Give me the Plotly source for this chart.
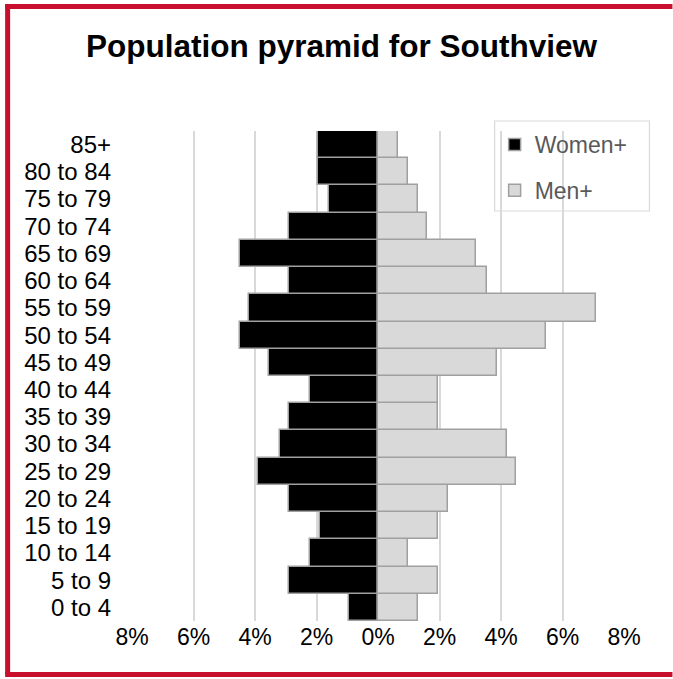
import plotly.graph_objects as go

age_groups = ["0 to 4", "5 to 9", "10 to 14", "15 to 19", "20 to 24", "25 to 29",
              "30 to 34", "35 to 39", "40 to 44", "45 to 49", "50 to 54", "55 to 59",
              "60 to 64", "65 to 69", "70 to 74", "75 to 79", "80 to 84", "85+"]
women = [0.95, 2.9, 2.2, 1.9, 2.9, 3.9, 3.2, 2.9, 2.2, 3.55, 4.5, 4.2, 2.9, 4.5, 2.9, 1.6, 1.95, 1.95]
men = [1.3, 1.95, 0.97, 1.95, 2.27, 4.5, 4.2, 1.95, 1.95, 3.87, 5.45, 7.1, 3.55, 3.2, 1.6, 1.3, 0.98, 0.64]
tick_vals = [-8, -6, -4, -2, 0, 2, 4, 6, 8]
tick_text = ["8%", "6%", "4%", "2%", "0%", "2%", "4%", "6%", "8%"]

W, H = 673, 679
L, R, T, B = 132, 624.5, 131, 621

def px(x):
    return (x - L) / (R - L)

def py(y):
    return (B - y) / (B - T)

FONT = "Liberation Sans, Arial, sans-serif"
RED = "#C8102E"

fig = go.Figure()
fig.add_trace(go.Bar(
    y=age_groups, x=[-v for v in women], orientation="h", name="Women+",
    legendgroup="w",
    marker=dict(color="#000000", line=dict(color="#a0a0a0", width=1.5)),
))
fig.add_trace(go.Bar(
    y=age_groups, x=men, orientation="h", name="Men+",
    legendgroup="m",
    marker=dict(color="#d9d9d9", line=dict(color="#a0a0a0", width=1.5)),
))

frame = dict(type="line", xref="paper", yref="paper", layer="above",
             line=dict(color=RED, width=5))
shapes = [
    dict(type="rect", xref="paper", yref="paper", layer="between",
         x0=px(495), x1=px(650), y0=py(211), y1=py(121),
         fillcolor="white", line=dict(color="#d9d9d9", width=1.2)),
    dict(frame, x0=px(7.5), x1=px(7.5), y0=py(674.5), y1=py(4)),
    dict(frame, x0=px(5), x1=px(W), y0=py(6.5), y1=py(6.5)),
    dict(frame, x0=px(5), x1=px(W), y0=py(674.5), y1=py(674.5)),
]

fig.update_layout(
    width=W, height=H,
    margin=dict(l=L, r=W - R, t=T, b=H - B),
    paper_bgcolor="white", plot_bgcolor="white",
    barmode="relative", bargap=0,
    font=dict(family=FONT, size=22, color="#000000"),
    title=dict(text="<b>Population pyramid for Southview</b>",
               font=dict(family=FONT, size=31.5, color="#000000"),
               x=341.5 / W, xanchor="center", xref="container",
               y=1 - 46 / H, yanchor="middle", yref="container"),
    xaxis=dict(range=[-8, 8], tickvals=tick_vals, ticktext=tick_text,
               showgrid=True, gridcolor="#d9d9d9", gridwidth=1.5,
               zeroline=False, showline=False, ticks="",
               ticklabelstandoff=0, fixedrange=True,
               tickfont=dict(size=23, color="#000000")),
    yaxis=dict(type="category", categoryorder="array", categoryarray=age_groups,
               tickmode="array", tickvals=age_groups,
               range=[-0.5, 17.5], showgrid=False, zeroline=False, showline=False,
               ticks="", ticklabelstandoff=20, fixedrange=True,
               tickfont=dict(size=24, color="#000000")),
    legend=dict(x=px(495), xanchor="left", y=py(123), yanchor="top",
                bgcolor="rgba(0,0,0,0)", borderwidth=0,
                traceorder="grouped", tracegroupgap=13,
                font=dict(family=FONT, size=23, color="#595959")),
    shapes=shapes,
)

fig.write_html("out.html", config={"displayModeBar": False},
               post_script="document.body.style.margin='0';document.body.style.overflow='hidden';")
